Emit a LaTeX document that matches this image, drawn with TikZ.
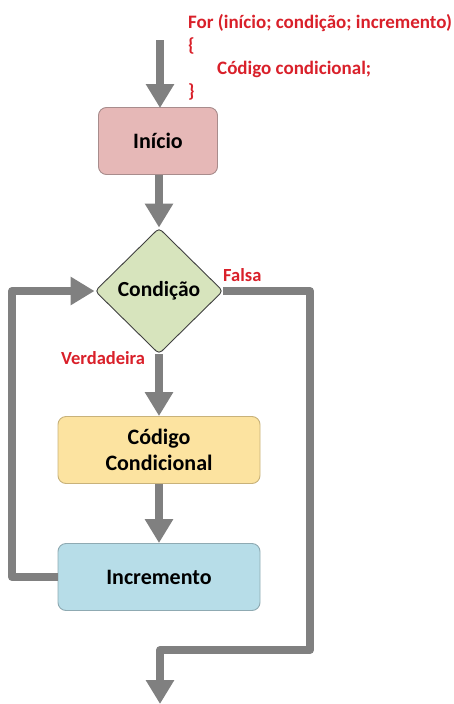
\documentclass[tikz,border=0pt]{standalone}
\usepackage{fontspec}
\setmainfont{Carlito}
\usetikzlibrary{arrows.meta,shapes.geometric}
\definecolor{flowgray}{HTML}{808080}
\definecolor{codered}{HTML}{D9202A}
\definecolor{startfill}{HTML}{E6B8B7}
\definecolor{startline}{HTML}{A88C8C}
\definecolor{condfill}{HTML}{D7E4BD}
\definecolor{codefill}{HTML}{FCE3A0}
\definecolor{codeline}{HTML}{C8B27A}
\definecolor{incfill}{HTML}{B7DDE8}
\definecolor{incline}{HTML}{8FAAB2}
\tikzset{
  flow/.style={draw=flowgray, line width=8pt, line join=round},
  flowarrow/.style={flow, -{Triangle[width=27pt,length=24pt]}},
  procbox/.style={rectangle, rounded corners=8pt, line width=0.9pt, font=\bfseries\fontsize{22}{26}\selectfont, align=center, inner sep=0pt},
  redtext/.style={text=codered, font=\bfseries\fontsize{19}{22}\selectfont, anchor=base west, inner sep=0pt},
  redlabel/.style={text=codered, font=\bfseries\fontsize{18.5}{22}\selectfont, inner sep=0pt}
}
\begin{document}
\begin{tikzpicture}[x=1pt,y=-1pt]
  \useasboundingbox (0,0) rectangle (454,704);
  % code snippet
  \node[redtext] (forline) at (188,28) {For (início; condição; incremento)};
  \node[redtext] (openbrace) at (188,51) {\{};
  \node[redtext] (codeline) at (217,74) {Código condicional;};
  \node[redtext] (closebrace) at (188,97) {\}};
  % flow blocks
  \node[procbox, fill=startfill, draw=startline, minimum width=119pt, minimum height=67pt] (start) at (158,141) {Início};
  \node[diamond, aspect=1, rounded corners=4pt, fill=condfill, draw=black!75, line width=0.9pt, minimum width=128pt, minimum height=126pt, inner sep=0pt, font=\bfseries\fontsize{21.5}{25}\selectfont] (cond) at (159,291) {Condição};
  \node[procbox, fill=codefill, draw=codeline, minimum width=202pt, minimum height=67pt] (code) at (159,450) {Código\\Condicional};
  \node[procbox, fill=incfill, draw=incline, minimum width=202pt, minimum height=67pt] (inc) at (159,577) {Incremento};
  % labels on branches
  \node[redlabel, anchor=base west] (falsa) at (223,281) {Falsa};
  \node[redlabel, anchor=base west] (verd) at (61,364) {Verdadeira};
  % free ends
  \coordinate (entry) at (160,40);
  \coordinate (exit) at (160,704);
  % connectors
  \draw[flowarrow] (entry) -- (160,108);
  \draw[flowarrow] (start.south -| cond.north) -- (cond.north);
  \draw[flowarrow] (cond.south) -- (code.north -| cond.south);
  \draw[flowarrow] (code.south -| cond.south) -- (inc.north -| cond.south);
  \draw[flowarrow] (inc.west) -- (12,577) -- (12,291) -- (cond.west);
  \draw[flowarrow] (cond.east) -- (310,291) -- (310,650) -- (160,650) -- (exit);
\end{tikzpicture}
\end{document}
